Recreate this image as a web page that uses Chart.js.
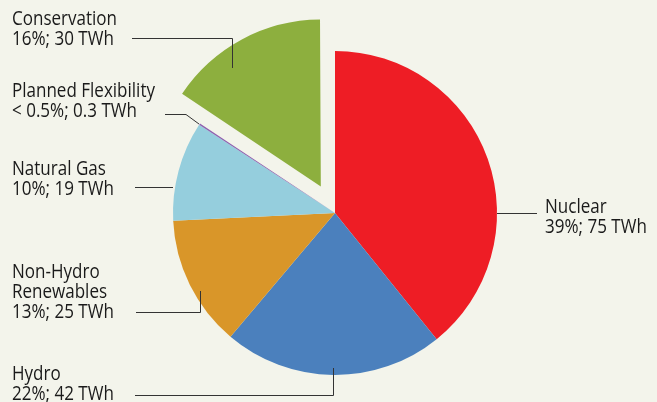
<!DOCTYPE html>
<html>
<head>
<meta charset="utf-8">
<script src="https://cdn.jsdelivr.net/npm/chart.js@4"></script>
<style>
  html, body { margin: 0; padding: 0; background: #f3f4eb; }
  #wrap { width: 657px; height: 402px; position: relative; }
</style>
</head>
<body>
<div id="wrap"><canvas id="c" width="657" height="402"></canvas></div>
<script>
// ---- data ----
const categories = ["Nuclear", "Hydro", "Non-Hydro Renewables", "Natural Gas", "Planned Flexibility", "Conservation"];
const valuesTWh = [75, 42, 25, 19, 0.3, 30];
const shareLabels = ["39%; 75 TWh", "22%; 42 TWh", "13%; 25 TWh", "10%; 19 TWh", "< 0.5%; 0.3 TWh", "16%; 30 TWh"];
const nameLines = [["Nuclear"], ["Hydro"], ["Non-Hydro", "Renewables"], ["Natural Gas"], ["Planned Flexibility"], ["Conservation"]];
const colors = ["#ee1d25", "#4b80bd", "#d99629", "#95cedd", "#8e62b0", "#8daf3e"];
const offsets = [0, 0, 0, 0, 0, 120];

// ---- label layout (annotation positions) ----
const labelLayout = [
  { x: 545, y: 213, line: [[537, 213.5], [497, 213.5]] },
  { x: 12, y: 380, line: [[135, 395.5], [333.5, 395.5], [333.5, 368]] },
  { x: 12, y: 278, line: [[136, 312.5], [200.5, 312.5], [200.5, 291]] },
  { x: 12, y: 175, line: [[135, 187.5], [173, 187.5]] },
  { x: 12, y: 97, line: [[165, 114.5], [186, 114.5], [199, 124]] },
  { x: 12, y: 25, line: [[132, 38.5], [232.5, 38.5], [232.5, 68]] }
];

const labelPlugin = {
  id: "labels",
  afterDraw(chart) {
    const ctx = chart.ctx;
    ctx.save();
    ctx.strokeStyle = "#333";
    ctx.lineWidth = 1;
    labelLayout.forEach((l) => {
      ctx.beginPath();
      l.line.forEach((p, j) => j ? ctx.lineTo(p[0], p[1]) : ctx.moveTo(p[0], p[1]));
      ctx.stroke();
    });
    ctx.fillStyle = "#1a1a1a";
    ctx.font = "19.5px 'Open Sans'";
    ctx.textBaseline = "alphabetic";
    ctx.textAlign = "left";
    const sx = 105 / ctx.measureText("Conservation").width;
    labelLayout.forEach((l, i) => {
      const lines = nameLines[i].concat([shareLabels[i]]);
      lines.forEach((t, k) => {
        ctx.save();
        ctx.translate(l.x, l.y + k * 20);
        ctx.scale(sx, 1);
        ctx.fillText(t, 0, 0);
        ctx.restore();
      });
    });
    ctx.restore();
  }
};

new Chart(document.getElementById("c"), {
  type: "pie",
  data: {
    labels: categories,
    datasets: [{
      data: valuesTWh,
      backgroundColor: colors,
      borderWidth: 0,
      offset: offsets
    }]
  },
  options: {
    responsive: false,
    animation: false,
    radius: 162,
    layout: { padding: { left: 13, right: 0, top: 24, bottom: 0 } },
    plugins: { legend: { display: false }, tooltip: { enabled: false } }
  },
  plugins: [labelPlugin]
});
</script>
</body>
</html>
